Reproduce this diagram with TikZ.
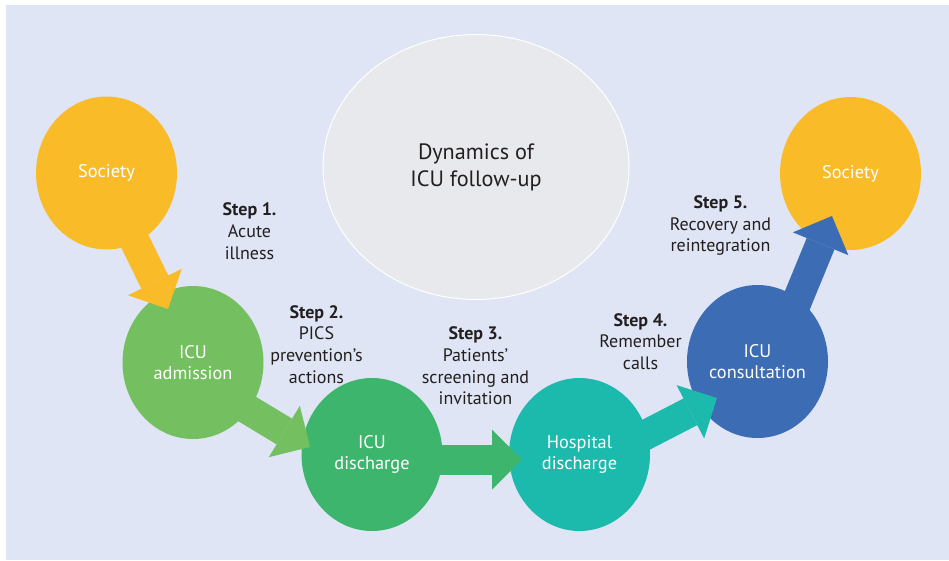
\documentclass[tikz,border=0pt]{standalone}
\usepackage{fontspec}
\setmainfont{PT Sans}
\usetikzlibrary{arrows.meta,shapes.geometric}
\definecolor{bgc}{HTML}{DFE5F4}
\definecolor{yel}{HTML}{F9BC28}
\definecolor{lgreen}{HTML}{74BF5F}
\definecolor{dgreen}{HTML}{3EB56C}
\definecolor{teal2}{HTML}{1CB9AD}
\definecolor{blue2}{HTML}{3C6CB4}
\definecolor{grayc}{HTML}{E8E9EC}
\definecolor{txt}{HTML}{231F20}
\tikzset{
  stage/.style={ellipse, minimum width=141pt, minimum height=153pt, inner sep=0pt,
    text=white, align=center, font=\fontsize{18.3}{21}\selectfont},
  steplabel/.style={align=center, inner sep=0pt, text=txt, font=\fontsize{18}{21.7}\selectfont},
  flow/.style={line width=30pt, -{Triangle[length=30pt,width=60pt,line width=0pt]}},
}
\begin{document}
\begin{tikzpicture}[x=1pt,y=-1pt]
\useasboundingbox (0,0) rectangle (949,560);
\fill[bgc] (6,5) rectangle (949,560);

\node[ellipse, fill=grayc, draw=white, line width=1pt, minimum width=306pt, minimum height=265pt,
  inner sep=0pt, align=center, text=txt, font=\fontsize{22.2}{27}\selectfont]
  (dyn) at (476,167) {Dynamics of\\ICU follow-up};

\node[stage, fill=yel] (soc1) at (106.5,173) {Society};
\node[stage, fill=lgreen] (adm) at (193,362.5) {ICU\\admission};
\node[stage, fill=dgreen] (dis) at (372,454.5) {ICU\\discharge};
\node[stage, fill=teal2] (hos) at (579.5,454.5) {Hospital\\discharge};
\node[stage, fill=blue2] (con) at (757.5,361.5) {ICU\\consultation};
\node[stage, fill=yel] (soc2) at (850.5,173.5) {Society};

\coordinate (t1) at (168,309);
\coordinate (t2) at (310,447);
\coordinate (t3) at (522,459.5);
\coordinate (t4) at (717,398);
\coordinate (t5) at (832,216);

\draw[flow, draw=yel] ([shift={(17.5,46.2)}]soc1.center) -- (t1);
\draw[flow, draw=lgreen] ([shift={(31.4,32.8)}]adm.center) -- (t2);
\draw[flow, draw=dgreen] ([shift={(50,5)}]dis.center) -- (t3);
\draw[flow, draw=teal2] ([shift={(48.6,-10.5)}]hos.center) -- (t4);
\draw[flow, draw=blue2] ([shift={(36.5,-53.1)}]con.center) -- (t5);

\node[steplabel] (s1) at (249.5,231) {\textbf{Step 1.}\\Acute\\illness};
\node[steplabel] (s2) at (316.5,344.5) {\textbf{Step 2.}\\PICS\\prevention’s\\actions};
\node[steplabel] (s3) at (475.5,366) {\textbf{Step 3.}\\Patients’\\screening and\\invitation};
\node[steplabel] (s4) at (640.5,341.5) {\textbf{Step 4.}\\Remember\\calls};
\node[steplabel] (s5) at (720.5,225.5) {\textbf{Step 5.}\\Recovery and\\reintegration};
\end{tikzpicture}
\end{document}
